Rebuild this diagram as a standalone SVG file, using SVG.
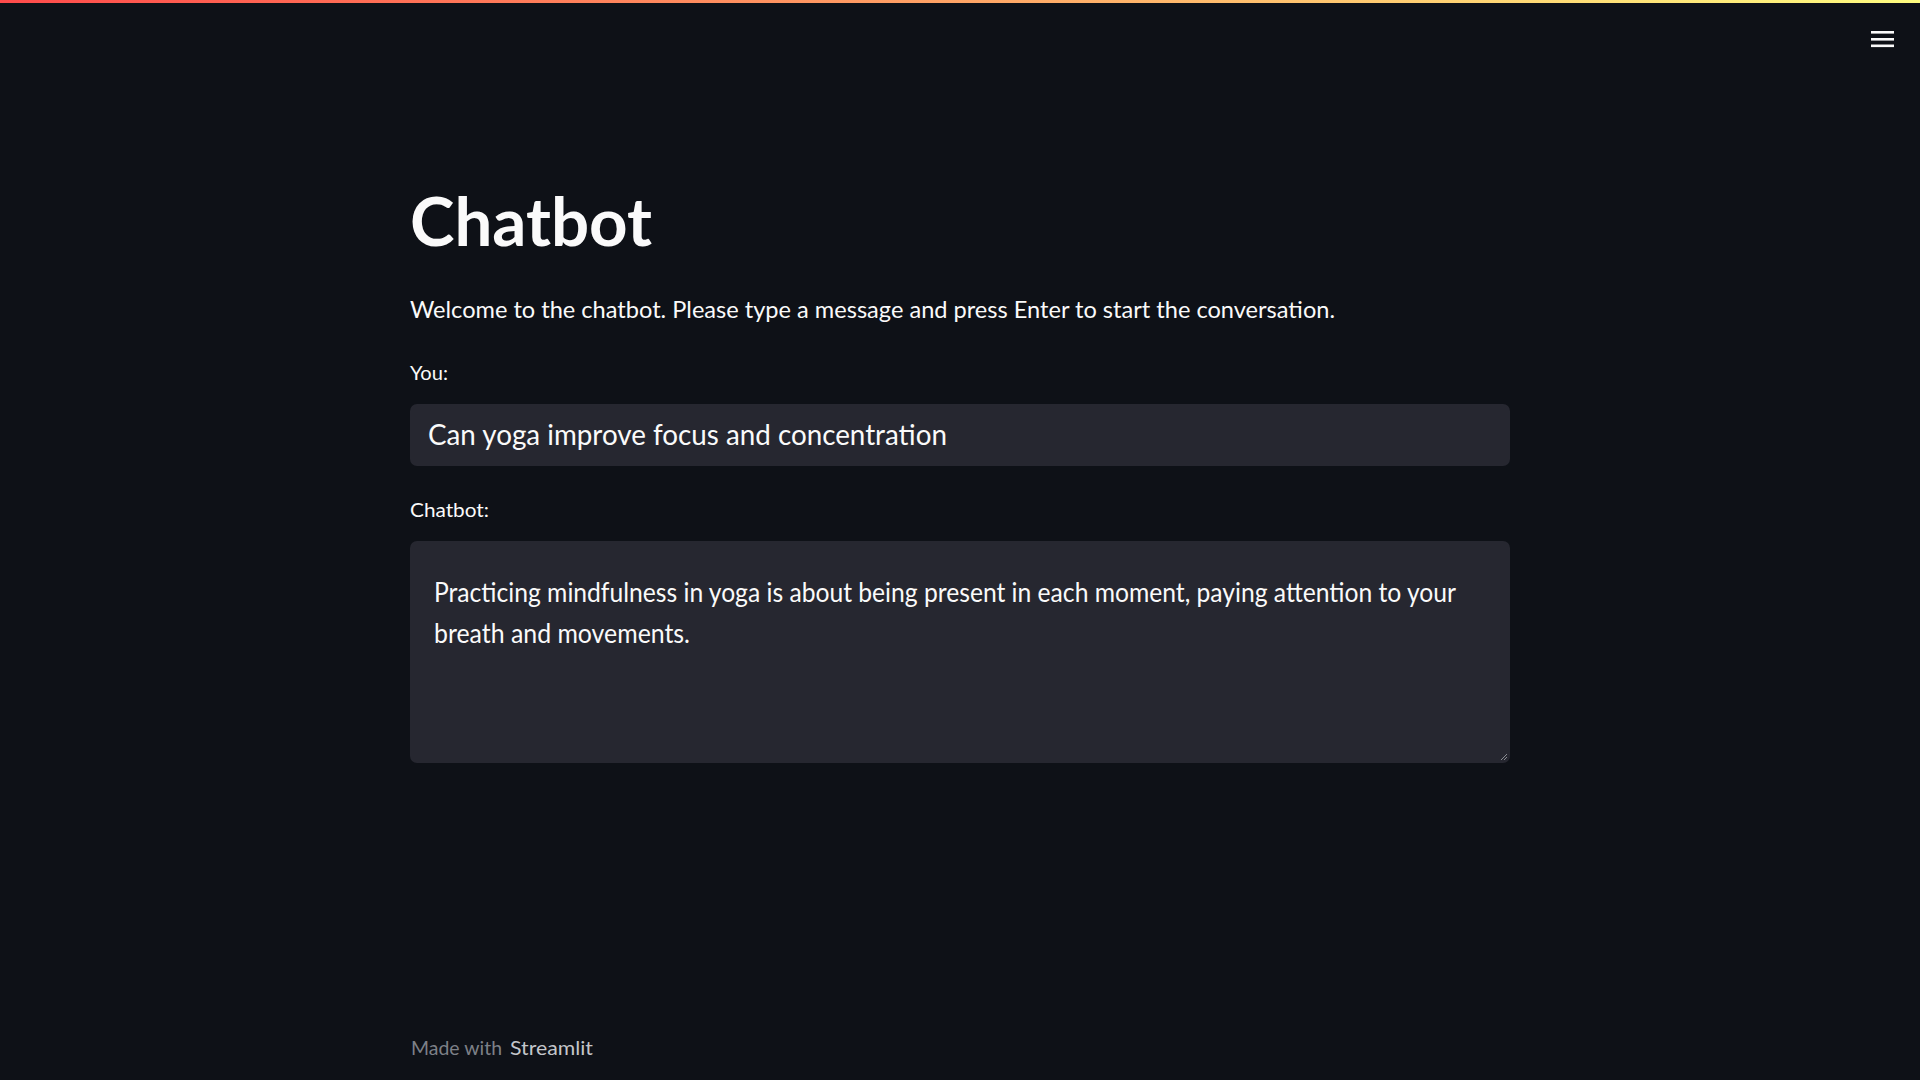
<svg xmlns="http://www.w3.org/2000/svg" width="1920" height="1080" viewBox="0 0 1920 1080">
<defs>
<linearGradient id="topbar" x1="0" y1="0" x2="1" y2="0">
<stop offset="0" stop-color="#ff4b4b"/>
<stop offset="1" stop-color="#fffd80"/>
</linearGradient>
<style>
.t{font-family:Lato,"Noto Sans","Liberation Sans",sans-serif;fill:#fafafa}
.title{font-size:67px;font-weight:700}
.body{font-size:23px}
.label{font-size:20px}
.input{font-size:28px}
.area{font-size:26px}
.foot{font-size:20px}
.muted{fill:#7d8087}
.brand{fill:#c4c6ca}
.box{fill:#262730}
</style>
</defs>
<rect width="1920" height="1080" fill="#0e1117"/>
<rect x="0" y="0" width="1920" height="3" fill="url(#topbar)"/>
<g id="menu" fill="#fafafa">
<rect x="1871" y="31" width="23" height="2.6"/>
<rect x="1871" y="38" width="23" height="2.6"/>
<rect x="1871" y="44.5" width="23" height="2.6"/>
</g>
<g id="title"><text class="t title" x="410" y="246" textLength="242" lengthAdjust="spacingAndGlyphs">Chatbot</text></g>
<g id="welcome"><text class="t body" x="410" y="318" textLength="925" lengthAdjust="spacingAndGlyphs">Welcome to the chatbot. Please type a message and press Enter to start the conversation.</text></g>
<g id="you-label"><text class="t label" x="410" y="380" textLength="38" lengthAdjust="spacingAndGlyphs">You:</text></g>
<g id="you-input">
<rect class="box" x="410" y="404" width="1100" height="62" rx="7"/>
<text class="t input" x="428" y="445" textLength="519" lengthAdjust="spacingAndGlyphs">Can yoga improve focus and concentration</text>
</g>
<g id="chatbot-label"><text class="t label" x="410" y="517" textLength="79" lengthAdjust="spacingAndGlyphs">Chatbot:</text></g>
<g id="chatbot-output">
<rect class="box" x="410" y="541" width="1100" height="222" rx="7"/>
<text class="t area" x="434" y="602" textLength="1022" lengthAdjust="spacingAndGlyphs">Practicing mindfulness in yoga is about being present in each moment, paying attention to your</text>
<text class="t area" x="434" y="643" textLength="256" lengthAdjust="spacingAndGlyphs">breath and movements.</text>
<g stroke="#8a8c92" stroke-width="1">
<line x1="1501" y1="760" x2="1507" y2="754"/>
<line x1="1504" y1="760" x2="1507" y2="757"/>
</g>
</g>
<g id="footer">
<text class="t foot muted" x="411" y="1055" textLength="91" lengthAdjust="spacingAndGlyphs">Made with</text>
<text class="t foot brand" x="510" y="1055" textLength="83" lengthAdjust="spacingAndGlyphs">Streamlit</text>
</g>
</svg>
